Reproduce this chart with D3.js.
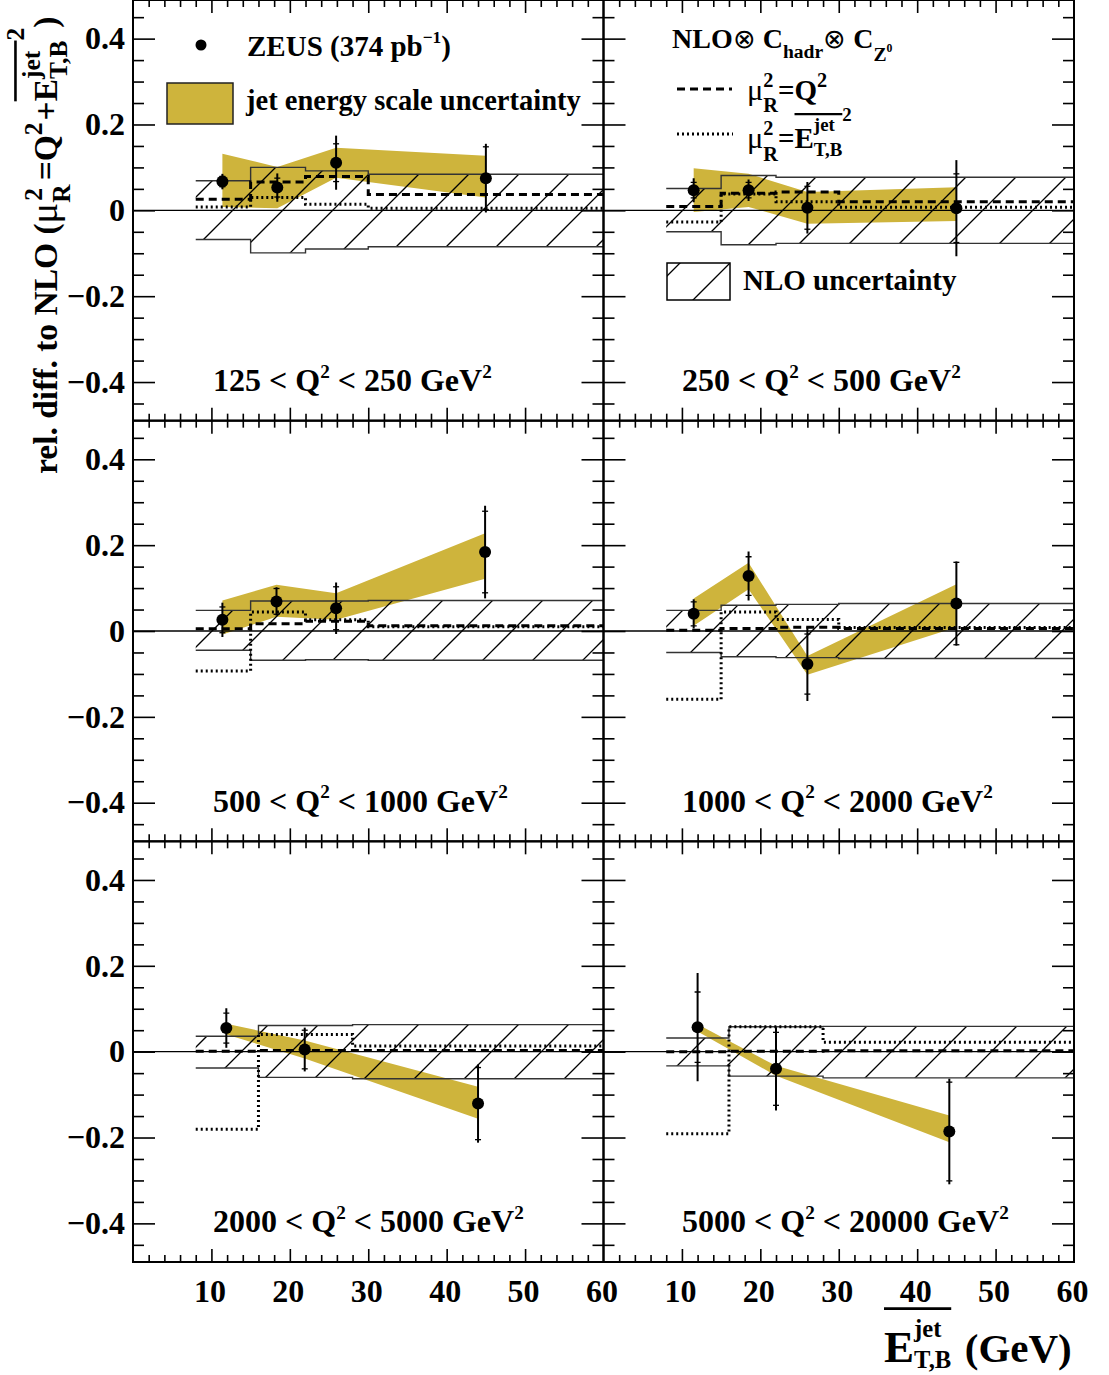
<!DOCTYPE html>
<html><head><meta charset="utf-8">
<script src="https://cdn.jsdelivr.net/npm/d3@7/dist/d3.min.js"></script>
<style>
body{margin:0;background:#fff;}
svg text{font-family:"Liberation Serif","Times New Roman",serif;font-weight:bold;fill:#000;white-space:pre;}
</style></head><body>
<svg id="c" width="1109" height="1375"></svg>
<script>
// ---------------- data ----------------
const qLo = [125, 250, 500, 1000, 2000, 5000];
const qHi = [250, 500, 1000, 2000, 5000, 20000];
const binEdges = [[8,15,22,30,60],[8,15,22,30,60],[8,15,22,30,60],[8,15,22,30,60],[8,16,28,60],[8,16,28,60]];
const xMean = [[11.4,18.4,25.9,45.0],[11.5,18.5,26.0,45.0],[11.4,18.3,25.9,44.9],[11.5,18.5,26.0,45.0],[11.9,21.9,44.0],[12.0,22.0,44.1]];
const yData = [[0.067,0.053,0.111,0.075],[0.047,0.047,0.006,0.005],[0.026,0.069,0.053,0.184],[0.040,0.128,-0.077,0.064],[0.055,0.005,-0.121],[0.057,-0.040,-0.186]];
const errTot = [[0.018,0.033,0.063,0.080],[0.028,0.025,0.060,0.112],[0.040,0.033,0.060,0.108],[0.034,0.057,0.086,0.098],[0.046,0.051,0.091],[0.126,0.097,0.123]];
const errStat = [[0.012,0.022,0.044,0.073],[0.018,0.018,0.050,0.080],[0.030,0.030,0.050,0.095],[0.028,0.045,0.070,0.096],[0.035,0.045,0.084],[0.082,0.085,0.115]];
const jesUp = [[0.132,0.101,0.146,0.127],[0.098,0.085,0.043,0.054],[0.071,0.108,0.088,0.228],[0.076,0.159,-0.058,0.109],[0.065,0.026,-0.082],[0.064,-0.033,-0.149]];
const jesLo = [[0.008,0.005,0.076,0.030],[-0.004,0.008,-0.031,-0.025],[-0.008,0.033,0.026,0.122],[0.012,0.097,-0.102,0.009],[0.040,-0.016,-0.156],[0.047,-0.056,-0.211]];
const nloUp = [[0.069,0.100,0.092,0.084],[0.051,0.081,0.077,0.077],[0.048,0.070,0.070,0.071],[0.048,0.060,0.062,0.064],[0.036,0.061,0.063],[0.032,0.058,0.059]];
const nloLo = [[-0.068,-0.099,-0.090,-0.085],[-0.050,-0.080,-0.077,-0.077],[-0.045,-0.068,-0.067,-0.068],[-0.050,-0.060,-0.062,-0.064],[-0.038,-0.060,-0.063],[-0.033,-0.057,-0.061]];
const dashedQ2 = [[0.026,0.066,0.079,0.037],[0.009,0.040,0.043,0.020],[0.005,0.017,0.023,0.012],[0.002,0.006,0.009,0.006],[0.001,0.003,0.003],[0.000,0.001,0.002]];
const dottedEt = [[0.008,0.030,0.014,0.005],[-0.027,0.038,0.020,0.007],[-0.093,0.044,0.026,0.010],[-0.159,0.044,0.027,0.008],[-0.181,0.040,0.013],[-0.191,0.058,0.022]];
const xTickLabels = [10,20,30,40,50,60];
const yTickLabels = [-0.4,-0.2,0,0.2,0.4];

// ---------------- layout ----------------
const colX = [133, 603.5], colW = 470.5;
const rowY = [0, 420.67, 841.33], rowH = 420.67;
const gold = "#ceb43c";
const svg = d3.select("#c");
const defs = svg.append("defs");
defs.append("pattern").attr("id","hatch").attr("patternUnits","userSpaceOnUse")
  .attr("width",50).attr("height",50)
  .append("path").attr("d","M-7,50L50,-7M38,55L55,38").attr("stroke","#000").attr("stroke-width",1.3).attr("fill","none");

function rich(parent, x, y, segs, F, rot) {
  const g = parent.append("g").attr("transform", `translate(${x},${y})` + (rot ? ` rotate(${rot})` : ""));
  let cx = 0, held = null; const marks = {};
  segs.forEach(s => {
    if (s.mark) { marks[s.mark] = cx; return; }
    if (s.line) {
      g.append("line").attr("x1", marks[s.line]).attr("x2", cx).attr("y1", s.y*F).attr("y2", s.y*F)
        .attr("stroke","#000").attr("stroke-width", s.w || 2.4);
      return;
    }
    const t = g.append("text").attr("x", cx + (s.ox||0)*F).attr("y", (s.dy||0)*F).attr("font-size", (s.s||1)*F).text(s.t);
    if (s.normal) t.style("font-weight","normal").style("font-family", s.fam || null);
    const w = t.node().getComputedTextLength() + (s.ox||0)*F;
    if (s.hold) { held = w; }
    else if (held !== null) { cx += Math.max(held, w); held = null; }
    else cx += w;
    if (s.dx) cx += s.dx * F;
  });
  return g;
}

const xMajor = d3.range(10, 60, 10);
const xMinor = d3.range(2, 60, 2).filter(v => v % 10 !== 0);
const yMinor = d3.range(-9, 10).filter(k => k % 4 !== 0).map(k => k * 0.05);

const curveStep = d3.curveStepAfter;

for (let i = 0; i < 6; i++) {
  const r = Math.floor(i / 2), c = i % 2;
  const x = d3.scaleLinear().domain([0, 60]).range([colX[c], colX[c] + colW]);
  const y = d3.scaleLinear().domain([-0.49, 0.49]).range([rowY[r] + rowH, rowY[r]]);
  const clipId = "clip" + i;
  defs.append("clipPath").attr("id", clipId).append("rect")
    .attr("x", colX[c]).attr("y", rowY[r]).attr("width", colW).attr("height", rowH);
  const g = svg.append("g").attr("clip-path", `url(#${clipId})`);

  // jet energy scale band
  const pts = xMean[i].map((xv, k) => ({x: xv, y: yData[i][k], lo: jesLo[i][k], hi: jesUp[i][k], et: errTot[i][k], es: errStat[i][k]}));
  g.append("path").datum(pts)
    .attr("d", d3.area().x(d => x(d.x)).y0(d => y(d.lo)).y1(d => y(d.hi)))
    .attr("fill", gold).attr("stroke", "none");

  // NLO uncertainty band (histogram-style steps)
  const edges = binEdges[i];
  const bins = edges.map((e, k) => {
    const j = Math.min(k, edges.length - 2);
    return {x: e, lo: nloLo[i][j], hi: nloUp[i][j], dq: dashedQ2[i][j], de: dottedEt[i][j]};
  });
  g.append("path").datum(bins)
    .attr("d", d3.area().curve(curveStep).x(d => x(d.x)).y0(d => y(d.lo)).y1(d => y(d.hi)))
    .attr("fill", "url(#hatch)").attr("stroke", "none");
  ["hi", "lo"].forEach(key => {
    g.append("path").datum(bins)
      .attr("d", d3.line().curve(curveStep).x(d => x(d.x)).y(d => y(d[key])))
      .attr("fill", "none").attr("stroke", "#333").attr("stroke-width", 1.4);
  });
  // theory lines
  g.append("path").datum(bins)
    .attr("d", d3.line().curve(curveStep).x(d => x(d.x)).y(d => y(d.dq)))
    .attr("fill", "none").attr("stroke", "#000").attr("stroke-width", 3).attr("stroke-dasharray", "8,5");
  g.append("path").datum(bins)
    .attr("d", d3.line().curve(curveStep).x(d => x(d.x)).y(d => y(d.de)))
    .attr("fill", "none").attr("stroke", "#000").attr("stroke-width", 3).attr("stroke-dasharray", "2,3");

  // zero line
  g.append("line").attr("x1", x(0)).attr("x2", x(60)).attr("y1", y(0)).attr("y2", y(0))
    .attr("stroke", "#000").attr("stroke-width", 1.3);

  // data points
  const pg = g.append("g");
  pts.forEach(d => {
    pg.append("line").attr("x1", x(d.x)).attr("x2", x(d.x)).attr("y1", y(d.y + d.et)).attr("y2", y(d.y - d.et))
      .attr("stroke", "#000").attr("stroke-width", 2);
    [d.y + d.es, d.y - d.es].forEach(v => {
      pg.append("line").attr("x1", x(d.x) - 3).attr("x2", x(d.x) + 3).attr("y1", y(v)).attr("y2", y(v))
        .attr("stroke", "#000").attr("stroke-width", 1.3);
    });
    pg.append("circle").attr("cx", x(d.x)).attr("cy", y(d.y)).attr("r", 6).attr("fill", "#000");
  });

  // ticks (inward on all four sides)
  const ax = svg.append("g");
  const noDom = s => s.select(".domain").remove();
  const yb = rowY[r] + rowH, yt = rowY[r];
  ax.append("g").attr("transform", `translate(0,${yb})`).call(d3.axisBottom(x).tickValues(xMajor).tickSize(-13).tickFormat("")).call(noDom);
  ax.append("g").attr("transform", `translate(0,${yb})`).call(d3.axisBottom(x).tickValues(xMinor).tickSize(-7).tickFormat("")).call(noDom);
  ax.append("g").attr("transform", `translate(0,${yt})`).call(d3.axisTop(x).tickValues(xMajor).tickSize(-13).tickFormat("")).call(noDom);
  ax.append("g").attr("transform", `translate(0,${yt})`).call(d3.axisTop(x).tickValues(xMinor).tickSize(-7).tickFormat("")).call(noDom);
  ax.append("g").attr("transform", `translate(${colX[c]},0)`).call(d3.axisLeft(y).tickValues(yTickLabels).tickSize(-22).tickFormat("")).call(noDom);
  ax.append("g").attr("transform", `translate(${colX[c]},0)`).call(d3.axisLeft(y).tickValues(yMinor).tickSize(-11).tickFormat("")).call(noDom);
  ax.append("g").attr("transform", `translate(${colX[c] + colW},0)`).call(d3.axisRight(y).tickValues(yTickLabels).tickSize(-22).tickFormat("")).call(noDom);
  ax.append("g").attr("transform", `translate(${colX[c] + colW},0)`).call(d3.axisRight(y).tickValues(yMinor).tickSize(-11).tickFormat("")).call(noDom);
  ax.selectAll("line").attr("stroke-width", 1.6);

  // frame
  svg.append("rect").attr("x", colX[c]).attr("y", rowY[r]).attr("width", colW).attr("height", rowH)
    .attr("fill", "none").attr("stroke", "#000").attr("stroke-width", 2);

  // tick labels
  if (c === 0) {
    const la = svg.append("g").attr("transform", `translate(${colX[c]},0)`)
      .call(d3.axisLeft(y).tickValues(yTickLabels).tickSize(0).tickPadding(8)
        .tickFormat(d => Math.abs(d) < 1e-9 ? "0" : (d < 0 ? "\u2212" : "") + Math.abs(d).toFixed(1)))
      .call(noDom);
    la.attr("font-size", 32).attr("font-family", null);
  }
  if (r === 2) {
    const lb = svg.append("g").attr("transform", `translate(-2,${yb})`)
      .call(d3.axisBottom(x).tickValues(xTickLabels).tickSize(0).tickPadding(17).tickFormat(d3.format("d")))
      .call(noDom);
    lb.attr("font-size", 32).attr("font-family", null);
  }

  // panel label
  rich(svg, c === 0 ? 213 : 682, rowY[r] + 391,
    [{t: qLo[i] + " < Q"}, {t: "2", s: 0.6, dy: -0.42}, {t: " < " + qHi[i] + " GeV"}, {t: "2", s: 0.6, dy: -0.42}], 32);
}
svg.selectAll(".tick text").attr("font-family", null);

// ---------------- legends ----------------
svg.append("circle").attr("cx", 201).attr("cy", 45).attr("r", 5.5).attr("fill", "#000");
rich(svg, 247, 56, [{t: "ZEUS (374 pb"}, {t: "\u22121", s: 0.6, dy: -0.45}, {t: ")"}], 29);
svg.append("rect").attr("x", 167).attr("y", 83).attr("width", 66).attr("height", 41)
  .attr("fill", gold).attr("stroke", "#222").attr("stroke-width", 1.5);
rich(svg, 246, 110, [{t: "jet energy scale uncertainty"}], 28.5);

rich(svg, 672, 48, [{t: "NLO"}, {t: "\u2297", normal: true, s: 0.95}, {t: " C"}, {t: "hadr", s: 0.7, dy: 0.34},
  {t: "\u2297", normal: true, s: 0.95}, {t: " C"}, {t: "Z", s: 0.7, dy: 0.48}, {t: "0", s: 0.42, dy: 0.14}], 28);
svg.append("line").attr("x1", 677).attr("x2", 732).attr("y1", 89).attr("y2", 89)
  .attr("stroke", "#000").attr("stroke-width", 3).attr("stroke-dasharray", "8,5");
rich(svg, 747, 100, [{t: "\u03bc", normal: true, s: 1.05}, {t: "2", s: 0.7, dy: -0.45, hold: true}, {t: "R", s: 0.7, dy: 0.42},
  {t: "=Q"}, {t: "2", s: 0.7, dy: -0.45}], 29);
svg.append("line").attr("x1", 677).attr("x2", 733).attr("y1", 134).attr("y2", 134)
  .attr("stroke", "#000").attr("stroke-width", 3).attr("stroke-dasharray", "2,3");
rich(svg, 747, 148, [{t: "\u03bc", normal: true, s: 1.05}, {t: "2", s: 0.7, dy: -0.45, hold: true}, {t: "R", s: 0.7, dy: 0.46},
  {t: "="}, {mark: "a"}, {t: "E"}, {t: "jet", s: 0.65, dy: -0.6, hold: true}, {t: "T,B", s: 0.65, dy: 0.26},
  {line: "a", y: -1.17, w: 2.2}, {t: "2", s: 0.65, dy: -0.92}], 29);
svg.append("rect").attr("x", 667).attr("y", 263).attr("width", 63).attr("height", 37)
  .attr("fill", "url(#hatch)").attr("stroke", "#000").attr("stroke-width", 1.5);
rich(svg, 743, 290, [{t: "NLO uncertainty"}], 29);

// ---------------- axis titles ----------------
rich(svg, 57, 474, [{t: "rel. diff. to NLO ("}, {t: "\u03bc", normal: true, s: 1.15}, {t: "2", s: 0.76, dy: -0.45, hold: true, ox: 0.06},
  {t: "R", s: 0.76, dy: 0.4, dx: 0.12}, {t: "=Q"}, {t: "2", s: 0.76, dy: -0.45, dx: 0.06}, {t: "+"}, {mark: "a"}, {t: "E"},
  {t: "jet", s: 0.76, dy: -0.5, hold: true}, {t: "T,B", s: 0.76, dy: 0.3}, {line: "a", y: -1.24, w: 2.6},
  {t: "2", s: 0.76, dy: -1.0}, {t: ")"}], 33.5, -90);

rich(svg, 884, 1362, [{mark: "a"}, {t: "E", s: 1.1}, {t: "jet", s: 0.6, dy: -0.61, hold: true}, {t: "T,B", s: 0.6, dy: 0.15},
  {line: "a", y: -1.3, w: 2.8}, {t: " (GeV)", ox: 0.08}], 41);
</script></body></html>
